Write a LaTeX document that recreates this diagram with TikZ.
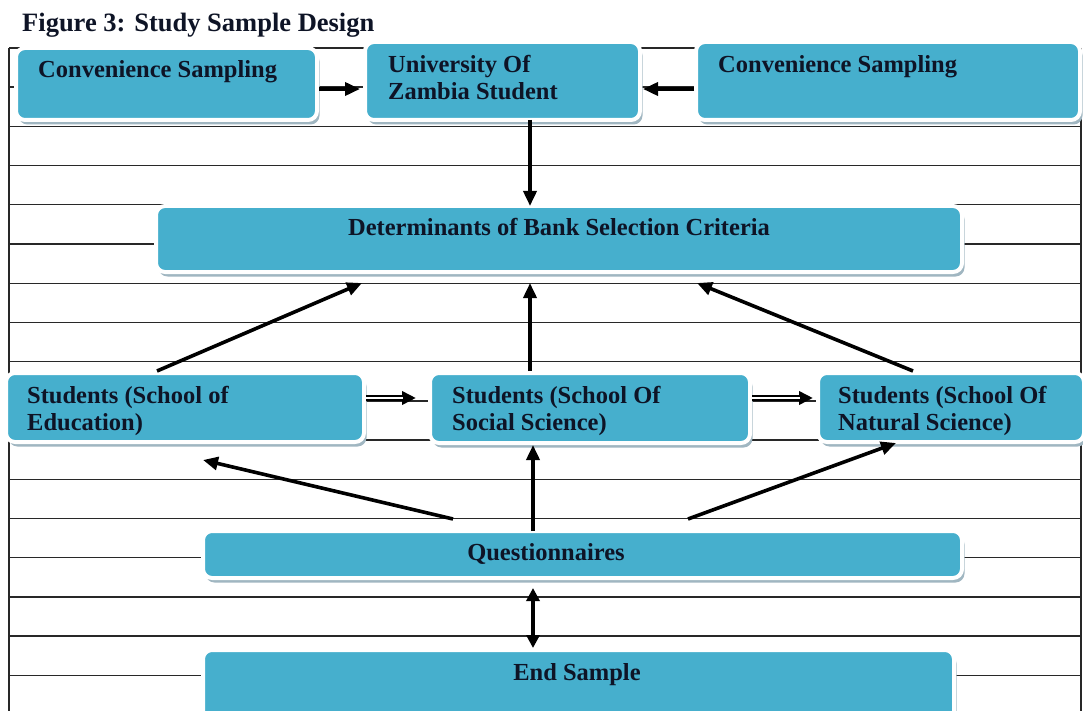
\documentclass[tikz,border=0pt]{standalone}
\usepackage{fontspec}
\setmainfont{Liberation Serif}
\usetikzlibrary{arrows.meta,shadows}

\definecolor{boxblue}{RGB}{70,175,205}
\definecolor{rimshade}{RGB}{160,182,193}
\definecolor{rulegray}{RGB}{40,40,40}
\definecolor{inkdark}{RGB}{14,20,38}

\begin{document}
\begin{tikzpicture}[x=1pt,y=-1pt,
  stepbox/.style={rectangle, rounded corners=9pt, fill=boxblue, draw=white,
    line width=4pt, outer sep=0pt, inner sep=0pt,
    drop shadow={shadow xshift=2.5pt, shadow yshift=-4.5pt, fill=rimshade, opacity=1}},
  boxtext/.style={font=\fontsize{24.5}{27}\selectfont\bfseries, text=inkdark,
    inner sep=0pt, align=left},
  rule/.style={draw=rulegray, line width=1.4pt},
  tip/.style={-{Triangle[length=15pt,width=13pt]}},
  arrow/.style={draw=black, line width=3.6pt, tip},
  dblarrow/.style={draw=black, line width=5.5pt, -{Triangle[length=14pt,width=13pt]}},
  dblgap/.style={draw=white, line width=1.5pt, shorten >=13pt},
]
\useasboundingbox (0,0) rectangle (1083,711);
\fill[white] (0,0) rectangle (1083,711);

% ruled background
\foreach \k in {0,...,17}
  \draw[rule] (9,{48+39.2*\k}) -- (1081,{48+39.2*\k});
\draw[rule] (9,48) -- (9,720);
\draw[rule] (1081,48) -- (1081,720);

% title
\node[font=\fontsize{26.5}{30}\selectfont\bfseries, text=inkdark, anchor=base west,
  inner sep=0pt] (title) at (22,32) {Figure 3: Study Sample Design};

% boxes
\node[stepbox, minimum width=301pt, minimum height=72pt] (A) at (166.5,84) {};
\node[stepbox, minimum width=275pt, minimum height=78pt] (B) at (502.5,81) {};
\node[stepbox, minimum width=384pt, minimum height=78pt] (C) at (888,81) {};
\node[stepbox, minimum width=806pt, minimum height=66pt] (D) at (559,239) {};
\node[stepbox, minimum width=358pt, minimum height=69pt] (E) at (185,407.5) {};
\node[stepbox, minimum width=320pt, minimum height=70pt] (F) at (590,408) {};
\node[stepbox, minimum width=266pt, minimum height=69pt] (G) at (951,407.5) {};
\node[stepbox, minimum width=759pt, minimum height=47pt] (H) at (582.5,554.5) {};
\node[stepbox, minimum width=751pt, minimum height=82pt] (I) at (578.5,691) {};

% box texts (for two-line texts the base anchor sits on the last line)
\node[boxtext, anchor=base west] (At) at (38,78) {Convenience Sampling};
\node[boxtext, anchor=base west] (Bt) at (388,100) {University Of\\Zambia Student};
\node[boxtext, anchor=base west] (Ct) at (718,73) {Convenience Sampling};
\node[boxtext, anchor=base] (Dt) at (559,236) {Determinants of Bank Selection Criteria};
\node[boxtext, anchor=base west] (Et) at (27,430) {Students (School of\\Education)};
\node[boxtext, anchor=base west] (Ft) at (452,430) {Students (School Of\\Social Science)};
\node[boxtext, anchor=base west] (Gt) at (838,430) {Students (School Of\\Natural Science)};
\node[boxtext, anchor=base] (Ht) at (546,560) {Questionnaires};
\node[boxtext, anchor=base] (It) at (577,680) {End Sample};

% connectors
\draw[arrow] ([xshift=2pt,yshift=-5pt]A.east) -- ([xshift=-5pt,yshift=-8pt]B.west);
\draw[arrow] ([xshift=-2pt,yshift=-8pt]C.west) -- ([xshift=3pt,yshift=-8pt]B.east);
\draw[arrow] ([xshift=27.5pt]B.south) -- ([xshift=-29pt]D.north);
\draw[arrow] ([xshift=-28pt,yshift=2pt]E.north) -- ([xshift=-197pt,yshift=-11pt]D.south);
\draw[arrow] ([xshift=-60pt,yshift=2pt]F.north) -- ([xshift=-29pt,yshift=-11pt]D.south);
\draw[arrow] ([xshift=-38pt,yshift=2pt]G.north) -- ([xshift=138pt,yshift=-11pt]D.south);

\draw[dblarrow] ([xshift=2pt,yshift=9.5pt]E.east) -- ([xshift=-14pt,yshift=10pt]F.west);
\draw[dblgap]   ([xshift=2pt,yshift=9.5pt]E.east) -- ([xshift=-14pt,yshift=10pt]F.west);
\draw[dblarrow] ([xshift=2pt,yshift=10pt]F.east) -- ([xshift=-5pt,yshift=9.5pt]G.west);
\draw[dblgap]   ([xshift=2pt,yshift=10pt]F.east) -- ([xshift=-5pt,yshift=9.5pt]G.west);

\draw[arrow] ([xshift=-129.5pt,yshift=12pt]H.north) -- ([xshift=18pt,yshift=-18pt]E.south);
\draw[arrow] ([xshift=-49.5pt]H.north) -- ([xshift=-57pt,yshift=-2pt]F.south);
\draw[arrow] ([xshift=105.5pt,yshift=12pt]H.north) -- ([xshift=-55pt,yshift=-1pt]G.south);
\draw[draw=black, line width=3.6pt, {Triangle[length=13pt,width=13pt]}-{Triangle[length=13pt,width=13pt]}]
  ([xshift=-49.5pt,yshift=-10pt]H.south) -- ([xshift=-45.5pt,yshift=2pt]I.north);
\end{tikzpicture}
\end{document}
